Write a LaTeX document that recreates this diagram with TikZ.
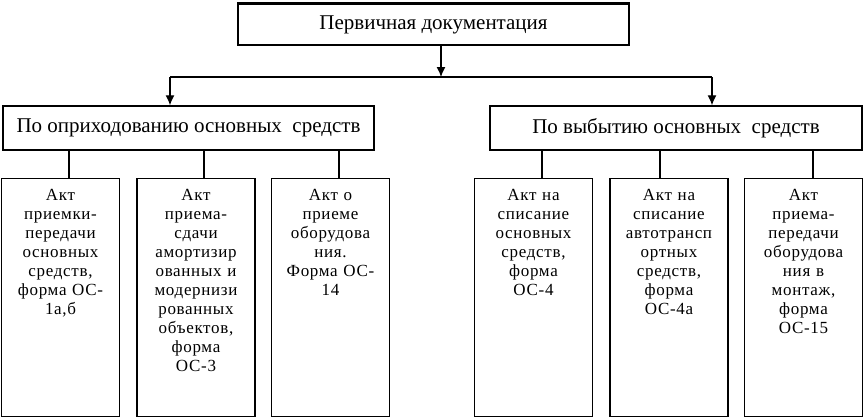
\documentclass[tikz,border=0pt]{standalone}
\usepackage{fontspec}
\setmainfont{Liberation Serif}
\newfontfamily\cellfont[LetterSpace=4]{Liberation Serif}
\usetikzlibrary{arrows.meta}
\usetikzlibrary{positioning}
\tikzset{
    link/.style = {line width=1.3pt},
    arr/.style = {line width=1.3pt,-{Latex[length=10pt,width=9pt]}},
    head/.style = {draw,line width=1.4pt,minimum height=44pt,inner sep=0,font=\fontsize{21}{24}\selectfont},
    doc/.style = {draw,line width=1.4pt,anchor=north,text width=112pt,align=center,inner xsep=3pt,inner ysep=8pt,text height=14pt,text depth=208pt,font=\cellfont\fontsize{17}{19}\selectfont}
}

\begin{document}
\begin{tikzpicture}[x=1pt,y=-1pt]
    \useasboundingbox (0,0) rectangle (864,418);
    % Levels
    \node[head,minimum width=391pt,minimum height=41pt] (top) at (433.5,24.5) {Первичная документация};
    \draw[line width=3.5pt] (top.north west) -- (top.north east);
    \node[head,minimum width=371pt] (opr) at (188.5,128) {По оприходованию основных\ \ средств};
    \node[head,minimum width=372pt] (vyb) at (676,128) {По выбытию основных\ \ средств};
    % Split points
    \coordinate (split) at (441,77);
    \coordinate (oprin) at (170,77);
    \coordinate (vybin) at (712,77);
    % Documents
    \node[doc] (a1) at (60.5,178) {Акт\\приемки-\\передачи\\основных\\средств,\\форма ОС-\\1а,б};
    \node[doc] (a2) at (196,178) {Акт\\приема-\\сдачи\\амортизир\\ованных и\\модернизи\\рованных\\объектов,\\форма\\ОС-3};
    \node[doc] (a3) at (330.5,178) {Акт о\\приеме\\оборудова\\ния.\\Форма ОС-\\14};
    \node[doc] (b1) at (533.5,178) {Акт на\\списание\\основных\\средств,\\форма\\ОС-4};
    \node[doc] (b2) at (669,178) {Акт на\\списание\\автотрансп\\ортных\\средств,\\форма\\ОС-4а};
    \node[doc] (b3) at (803.5,178) {Акт\\приема-\\передачи\\оборудова\\ния в\\монтаж,\\форма\\ОС-15};
    % Connectors
    \draw[arr] (top.south -| split) -- (split);
    \draw[link] (oprin) -- (vybin);
    \draw[arr] (oprin) -- (opr.north -| oprin);
    \draw[arr] (vybin) -- (vyb.north -| vybin);
    \foreach \doc/\up/\dx in {a1/opr/8.5,a2/opr/8,a3/opr/8.5,b1/vyb/8.5,b2/vyb/-9,b3/vyb/9.5}
        \draw[link] ([xshift=\dx pt]\up.south -| \doc.north) -- ([xshift=\dx pt]\doc.north);
\end{tikzpicture}
\end{document}
